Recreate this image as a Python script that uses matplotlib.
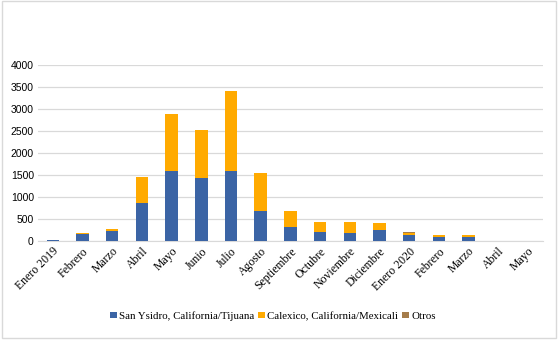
import matplotlib
matplotlib.use("Agg")
import matplotlib.pyplot as plt
from matplotlib.patches import Rectangle
import numpy as np

months = ["Enero 2019", "Febrero", "Marzo", "Abril", "Mayo", "Junio", "Julio",
          "Agosto", "Septiembre", "Octubre", "Noviembre", "Diciembre",
          "Enero 2020", "Febrero", "Marzo", "Abril", "Mayo"]
san_ysidro = [15, 160, 230, 870, 1600, 1440, 1600, 690, 330, 215, 185, 250, 135, 95, 95, 8, 8]
calexico   = [3, 20, 40, 590, 1290, 1080, 1810, 860, 360, 220, 240, 150, 50, 40, 40, 2, 2]
otros      = [2, 3, 8, 5, 5, 5, 5, 5, 5, 5, 5, 5, 15, 12, 12, 2, 2]
series_names = ["San Ysidro, California/Tijuana", "Calexico, California/Mexicali", "Otros"]
yticks = [0, 500, 1000, 1500, 2000, 2500, 3000, 3500, 4000]

colors = ["#3B64A5", "#FFAA00", "#A57C4A"]

fig = plt.figure(figsize=(5.59, 3.42), dpi=100)
ax = fig.add_axes([0.068, 0.295, 0.903, 0.515])

x = np.arange(len(months))
w = 0.42
sy = np.array(san_ysidro, float)
ca = np.array(calexico, float)
ot = np.array(otros, float)
ax.bar(x, sy, w, color=colors[0], label=series_names[0], zorder=3)
ax.bar(x, ca, w, bottom=sy, color=colors[1], label=series_names[1], zorder=3)
ax.bar(x, ot, w, bottom=sy + ca, color=colors[2], label=series_names[2], zorder=3)

ax.set_xlim(-0.5, len(months) - 0.5)
ax.set_ylim(0, 4000)
ax.set_yticks(yticks)
ax.set_yticklabels([str(v) for v in yticks], fontsize=7.5, family="Liberation Sans")
ax.yaxis.grid(True, color="#D9D9D9", linewidth=0.9, zorder=0)
ax.set_xticks(x)
ax.set_xticklabels(months, rotation=45, ha="right", rotation_mode="anchor",
                   fontsize=8.5, family="Liberation Serif")
ax.tick_params(axis="both", length=0, pad=3)
for s in ["top", "right", "left"]:
    ax.spines[s].set_visible(False)
ax.spines["bottom"].set_color("#D9D9D9")

leg = fig.legend(loc="center", bbox_to_anchor=(0.488, 0.076), ncol=3, frameon=False,
                 prop={"family": "Liberation Serif", "size": 7.8},
                 handlelength=0.6, handleheight=0.6, handletextpad=0.2, columnspacing=0.4)

fig.patches.append(Rectangle((0.004, 0.012), 0.99, 0.985, transform=fig.transFigure,
                             fill=False, edgecolor="#D9D9D9", linewidth=1.0))

fig.savefig("out.png", dpi=100)
